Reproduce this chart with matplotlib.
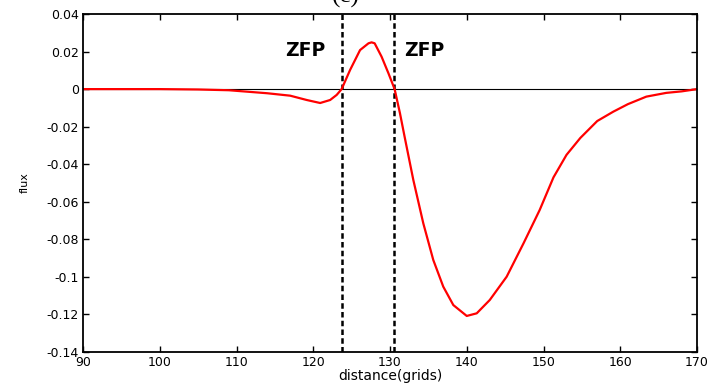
import numpy as np
import matplotlib
matplotlib.use("Agg")
import matplotlib.pyplot as plt

# flux profile
distance = [90, 100, 105, 109, 114, 117.0, 119.15, 120.9, 122.2, 123.05, 123.7,
            124.8, 126.1, 127.2, 127.6, 128.0, 128.9, 129.8, 130.6, 131.3, 131.9,
            133.04, 134.34, 135.64, 136.94, 138.25, 140.0, 141.3, 143.0, 145.2,
            147.4, 149.5, 151.3, 153, 154.8, 157, 159.1, 161, 163.4, 166, 168, 170]
flux = [0, 0, -0.0002, -0.0006, -0.0022, -0.0035, -0.0058, -0.0074, -0.0058, -0.0031, 0,
        0.0102, 0.0208, 0.0244, 0.0249, 0.0244, 0.0173, 0.0084, 0, -0.0129, -0.0253,
        -0.0484, -0.0715, -0.091, -0.1052, -0.115, -0.1208, -0.1194, -0.1123, -0.0999,
        -0.0821, -0.0644, -0.047, -0.035, -0.026, -0.017, -0.012, -0.008, -0.004,
        -0.002, -0.0012, 0]

zfp_x = [123.7, 130.5]
zfp_label_x = [116.3, 131.9]
zfp_label_y = 0.0208

xticks = [90, 100, 110, 120, 130, 140, 150, 160, 170]
yticks = [-0.14, -0.12, -0.1, -0.08, -0.06, -0.04, -0.02, 0, 0.02, 0.04]
yticklabels = ["-0.14", "-0.12", "-0.1", "-0.08", "-0.06", "-0.04", "-0.02", "0", "0.02", "0.04"]

fig = plt.figure(figsize=(7.09, 3.85), dpi=100)
ax = fig.add_axes([83 / 709, 33 / 385, 614 / 709, 338 / 385])

ax.plot([90, 170], [0, 0], color="black", lw=0.8)
for xv in zfp_x:
    ax.axvline(xv, color="black", lw=1.8, dashes=(2.2, 1.3))
ax.plot(distance, flux, color="red", lw=1.6)

for xl in zfp_label_x:
    ax.text(xl, zfp_label_y, "ZFP", fontsize=13.5, fontweight="bold", va="center", ha="left")

ax.set_xlim(90, 170)
ax.set_ylim(-0.14, 0.04)
ax.set_xticks(xticks)
ax.set_yticks(yticks)
ax.set_yticklabels(yticklabels)
ax.tick_params(direction="in", length=4, width=1.0, labelsize=9,
               top=True, right=True, pad=3)
for s in ax.spines.values():
    s.set_linewidth(1.3)

ax.set_xlabel("distance(grids)", fontsize=10, labelpad=0)
ax.set_ylabel("flux", fontsize=8, labelpad=12)

# panel label sits partly above the top edge, as in the source figure
fig.text(346 / 709, 1 - 3 / 385, "(c)", fontsize=18, family="Liberation Serif",
         ha="center", va="baseline")

fig.savefig("out.png", dpi=100)
